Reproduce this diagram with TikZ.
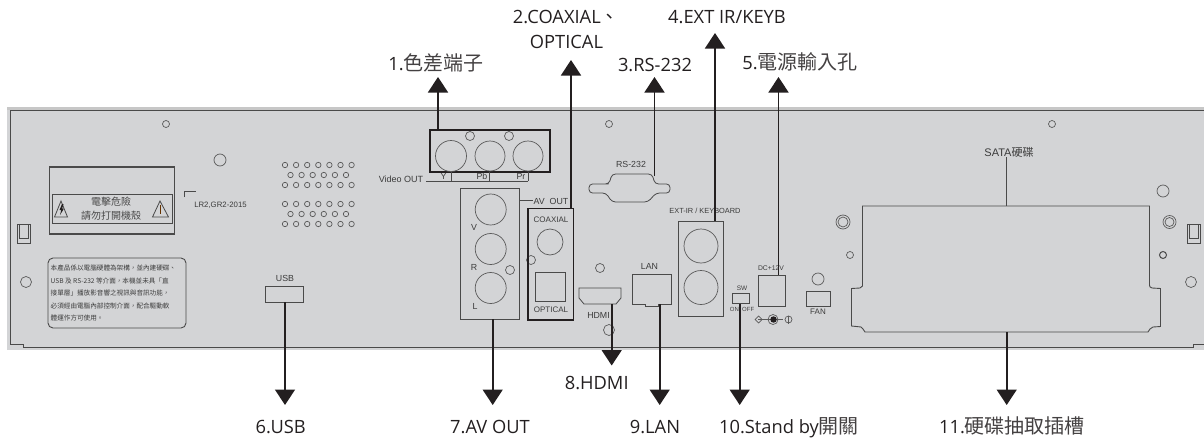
\documentclass[tikz,border=0pt]{standalone}
\usepackage{fontspec}
\usetikzlibrary{arrows.meta}
\setmainfont{Open Sans}
\newfontfamily\cjk{Noto Sans CJK TC}
\newfontfamily\lib{Liberation Sans}
\newcommand{\zhbig}[1]{{\cjk\fontsize{20}{20}\selectfont\color{ink!85}#1}}
\definecolor{ink}{HTML}{231F20}
\definecolor{panelfill}{HTML}{D3D4D6}
\definecolor{edge}{HTML}{4A4A4A}
\definecolor{hole}{HTML}{5A5A5A}
\definecolor{ptext}{HTML}{3C3C3C}
\tikzset{
  x=1pt,y=-1pt,
  callout/.style={inner sep=0,text=ink,font=\fontsize{18.3}{20}\selectfont},
  ptag/.style={inner sep=0,text=ptext,font=\fontsize{8}{9}\selectfont\lib},
  ptagb/.style={ptag,font=\fontsize{8.8}{10}\selectfont\lib},
  thick box/.style={draw=ink,line width=1.7pt,inner sep=0},
  thin/.style={draw=edge,line width=.8pt},
  hl/.style={draw=hole,line width=.7pt},
  conn/.style={draw=ink,line width=1.6pt,-{Triangle[width=20pt,length=15.5pt]}},
}
\begin{document}
\begin{tikzpicture}
\useasboundingbox (0,0) rectangle (1204,439);
% panel
\fill[panelfill] (7,107) rectangle (1204,350);
\fill[black!22] (7,107) rectangle (1204,109.5);
\draw[edge,line width=.9pt] (1204,110) -- (10,110) -- (10,344) -- (23,344) -- (23,347) -- (1193,347) -- (1193,344.5) -- (1204,344.5);
% warning box
\node[thick box,draw=edge,line width=1.3pt,minimum width=125pt,minimum height=67pt] (warn) at (112,200.5) {};
\node[draw=edge,line width=.9pt,inner sep=0,minimum width=120pt,minimum height=29pt] (warnin) at (112,208.5) {};
\node[inner sep=0,text=edge,font=\fontsize{10}{10}\selectfont\cjk] (w1) at (111,202) {電擊危險};
\node[inner sep=0,text=edge,font=\fontsize{10}{10}\selectfont\cjk] (w2) at (111,216) {請勿打開機殼};
\draw[edge,line width=.8pt] (61,201) -- (54.5,217) -- (67.5,217) -- cycle;
\fill[ink] (62,204) -- (59.5,210) -- (61.3,210) -- (60,215) -- (64,208.5) -- (62.2,208.5) -- (63.5,204) -- cycle;
\draw[edge,line width=.8pt] (160,201) -- (152.5,217) -- (168.5,217) -- cycle;
\draw[black!60!orange,line width=.8pt] (160,205) -- (160,214);
% rating bracket
\draw[edge,line width=.7pt] (184,197) -- (184,191) -- (196,191);
\node[ptag,font=\fontsize{7.8}{9}\selectfont\lib] (rating) at (220.5,205) {LR2,GR2-2015};
% notice
\node[draw=edge,line width=.9pt,rounded corners=5pt,inner sep=0,minimum width=138pt,minimum height=70pt] (notice) at (117,293) {};
\foreach \n/\yy/\t in {a/268/本產品係以電腦硬體為架構，並內建硬碟、,b/281/USB 及 RS-232 等介面，本機並未具「直,c/293/接單層」播放影音響之視訊與音訊功能，,d/306/必須經由電腦內部控制介面，配合驅動軟,e/318/體運作方可使用。}
  \node[anchor=west,inner sep=0,text=ptext,font=\fontsize{6.6}{8}\selectfont\cjk] (n\n) at (50.5,\yy) {\t};
% side latches
\draw[thin] (17,224) rectangle (30,243);
\draw[thin] (19,224) rectangle (28,238);
\draw[thin] (1187,224) rectangle (1200,243);
\draw[thin] (1189,224) rectangle (1198,238);
% screw holes
\foreach \cx/\cy/\r in {166/124/3.5,220/160/6,26/282/5.5,609/124/3.5,600/268/4.5,609/330/5.5,818/279/6,850/255/3.5,1052/124/3.5,1163/191/6,1191/282/5.5,470/136/4.5,509/136/4.5,510/270/4.5,531/260/4.5}
  \draw[hl] (\cx,\cy) circle (\r);
\draw[edge,line width=1pt] (1163,255) circle (3.5);
\foreach \cx/\ro/\ri in {843/7/5,1169.5/6.5/4.5}{
  \draw[hl] (\cx,222) circle (\ro);
  \draw[hl] (\cx,222) circle (\ri);
}
% vents
\foreach \top in {165,204}{
  \foreach \i in {0,...,6}{
    \draw[hl] (285+11.1*\i,\top) circle (2.7);
    \draw[hl] (285+11.1*\i,\top+20) circle (2.7);
  }
  \foreach \i in {0,...,5}
    \draw[hl] (290.5+11.1*\i,\top+10) circle (2.7);
}
% USB
\node[ptagb] (usbt) at (285,278) {USB};
\node[draw=edge,line width=.9pt,inner sep=0,minimum width=38pt,minimum height=16pt] (usb) at (284.5,294) {};
% component video
\node[thick box,minimum width=120pt,minimum height=42pt] (comp) at (490,151) {};
\foreach \cx/\r in {451/15.5,490/15,528/15}
  \draw[hl] (\cx,156) circle (\r);
\node[ptagb,font=\fontsize{9}{10}\selectfont\lib] (vo) at (401,179) {Video OUT};
\draw[thin] (426,181) -- (528,181);
\foreach \cx in {451,489.5,528}
  \draw[thin] (\cx,172) -- (\cx,181);
\node[ptagb] (ty) at (443.5,176.5) {Y};
\node[ptagb] (tb) at (482,176.5) {Pb};
\node[ptagb] (tr) at (521,176.5) {Pr};
% AV out
\node[draw=edge,line width=.9pt,inner sep=0,minimum width=59pt,minimum height=131pt] (av) at (490,253.5) {};
\foreach \cy in {209.5,249,288}
  \draw[hl] (490.7,\cy) circle (15.5);
\node[ptagb] (tv) at (474,227) {V};
\node[ptagb] (tR) at (474,267) {R};
\node[ptagb] (tL) at (475,306) {L};
\draw[thin] (519.5,200) -- (533,200);
\node[ptagb,anchor=west] (avt) at (533.5,201) {AV\ \ OUT};
% coaxial / optical
\node[thick box,minimum width=45.5pt,minimum height=111.5pt] (coax) at (550.7,264.2) {};
\node[ptag] (coaxt) at (551,220) {COAXIAL};
\draw[hl] (550,242) circle (13);
\node[draw=edge,line width=.9pt,inner sep=0,minimum width=30pt,minimum height=29pt] (opt) at (550,286.5) {};
\node[ptag] (optt) at (551,310) {OPTICAL};
% RS-232
\node[ptagb] (rst) at (631,164) {RS-232};
\draw[thin,rounded corners=3.5pt] (605,184) -- (609,184) -- (612,174) -- (652,174) -- (655,184) -- (670,184) -- (670,193) -- (656,193) -- (648,202) -- (612,202) -- (606,193) -- (589,193) -- (589,184) -- cycle;
\coordinate (rs) at (654.5,176);
% HDMI
\coordinate (hdmi) at (611.7,304);
\draw[thin] (579,288) -- (621,288) -- (621,298) -- (616,304) -- (584,304) -- (579,298) -- cycle;
\node[ptagb] (hdmit) at (598.5,315) {HDMI};
% LAN
\node[ptagb] (lant) at (649.5,266) {LAN};
\coordinate (lan) at (659.7,304);
\draw[thin] (632,274) -- (671,274) -- (671,304) -- (658,304) -- (658,306) -- (645,306) -- (645,304) -- (632,304) -- cycle;
% EXT
\node[ptag,font=\fontsize{7.4}{9}\selectfont\lib] (extt) at (705,211) {EXT-IR / KEYBOARD};
\node[draw=edge,line width=.9pt,inner sep=0,minimum width=44.5pt,minimum height=95pt] (ext) at (700.7,268.5) {};
\draw[hl] (701,246) circle (17);
\draw[hl] (701,287.5) circle (17);
% SW
\node[ptag,font=\fontsize{6.5}{8}\selectfont\lib] (swt) at (742,288) {SW};
\node[draw=edge,line width=.9pt,inner sep=0,minimum width=17pt,minimum height=10.5pt] (sw) at (741,298.2) {};
\node[ptag,font=\fontsize{6}{8}\selectfont\lib] (swo) at (742,309) {ON\ \ OFF};
% DC
\node[ptag,font=\fontsize{6.8}{8}\selectfont\lib] (dct) at (771,268) {DC+12V};
\node[draw=edge,line width=.9pt,inner sep=0,minimum width=27pt,minimum height=31pt] (dc) at (771.5,290.5) {};
\draw[hl] (758,319.5) -- (783,319.5);
\draw[hl] (773,319.5) circle (5);
\fill[ink] (773.5,319.5) circle (3.2);
\draw[hl] (758.5,316) -- (762,319.5) -- (758.5,323) -- (755,319.5) -- cycle;
\draw[hl] (788.5,319.5) circle (3.5);
\draw[hl] (788.5,315.5) -- (788.5,323.5);
% FAN
\node[draw=edge,line width=.9pt,inner sep=0,minimum width=24pt,minimum height=15pt] (fan) at (818,298.5) {};
\node[ptag] (fant) at (818,312) {FAN};
% SATA bay
\node[inner sep=0,text=ptext,font=\fontsize{11}{11}\selectfont\lib] (satat) at (1009,152) {SATA{\cjk 硬碟}};
\coordinate (sata) at (1006.7,206);
\coordinate (bay) at (1006.7,332);
\draw[edge,line width=.8pt] (satat.south -| sata) -- (sata);
\draw[edge,line width=.9pt] (862.5,206) -- (1149.5,206) -- (1149.5,285) -- (1150,287) -- (1152,288) -- (1160.5,288.5) -- (1160.5,326.5) -- (1153,327) -- (1150,329) -- (1148,332) -- (865,332) -- (863,329) -- (861,327) -- (851.5,326) -- (851.5,288.5) -- (860,288) -- (862.5,286) -- cycle;
% callout labels
\node[callout] (l1) at (436,63) {1.\zhbig{色差端子}};
\node[callout] (l2a) at (566,17) {2.COAXIAL{\cjk 、}};
\node[callout] (l2b) at (566.5,42) {OPTICAL};
\node[callout] (l3) at (655,65) {3.RS-232};
\node[callout] (l4) at (727,17) {4.EXT IR/KEYB};
\node[callout] (l5) at (800,62) {5.\zhbig{電源輸入孔}};
\node[callout] (l6) at (280.7,427) {6.USB};
\node[callout] (l7) at (490,427) {7.AV OUT};
\node[callout] (l8) at (596.7,383) {8.HDMI};
\node[callout] (l9) at (655,427) {9.LAN};
\node[callout] (l10) at (789,428) {10.Stand by\zhbig{開關}};
\node[callout] (l11) at (1012,426) {11.\zhbig{硬碟抽取插槽}};
% arrow ends
\coordinate (a1) at (438,77);
\coordinate (a2) at (571,60);
\coordinate (a3) at (654.5,77);
\coordinate (a4) at (715,33);
\coordinate (a5) at (778.5,77);
\coordinate (a6) at (285,405);
\coordinate (a7) at (492.7,405);
\coordinate (a8) at (611.7,365.5);
\coordinate (a9) at (659.7,405);
\coordinate (a10) at (739.7,405);
\coordinate (a11) at (1006.7,405);
% connectors
\draw[conn] (a1 |- comp.north) -- (a1);
\draw[conn] (a2 |- coax.north) -- (a2);
\draw[conn] (rs) -- (a3);
\draw[conn] (a4 |- ext.north) -- (a4);
\draw[conn] (a5 |- dc.north) -- (a5);
\draw[conn] (usb.south -| a6) -- (a6);
\draw[conn] (av.south -| a7) -- (a7);
\draw[conn] (hdmi) -- (a8);
\draw[conn] (lan) -- (a9);
\draw[conn] (sw.south -| a10) -- (a10);
\draw[conn] (bay) -- (a11);
\end{tikzpicture}
\end{document}
